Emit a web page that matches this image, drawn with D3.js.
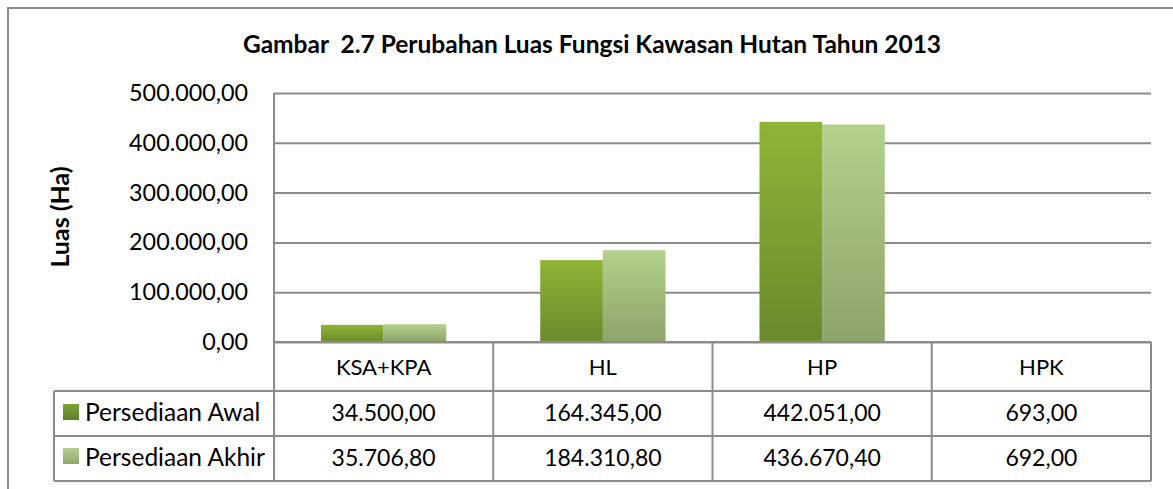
<!DOCTYPE html>
<html>
<head>
<meta charset="utf-8">
<script src="https://cdn.jsdelivr.net/npm/d3@7"></script>
<style>
  html, body { margin: 0; padding: 0; background: #fff; }
  svg { display: block; }
  text { font-family: Lato, "Liberation Sans", sans-serif; fill: #000; }
</style>
</head>
<body>
<svg id="chart" width="1173" height="489"></svg>
<script>
// ---- data ----
const categories = ["KSA+KPA", "HL", "HP", "HPK"];
const seriesNames = ["Persediaan Awal", "Persediaan Akhir"];
const persediaanAwal = [34500.00, 164345.00, 442051.00, 693.00];
const persediaanAkhir = [35706.80, 184310.80, 436670.40, 692.00];
const yTicks = [0, 100000, 200000, 300000, 400000, 500000];
const titleText = "Gambar  2.7 Perubahan Luas Fungsi Kawasan Hutan Tahun 2013";
const yTitle = "Luas (Ha)";

const seriesValues = [persediaanAwal, persediaanAkhir];

// ---- layout ----
const svg = d3.select("#chart");
const plotLeft = 274, plotRight = 1151, plotTop = 93, plotBottom = 342;
const rowH = [342, 391, 436, 481];   // header top, row1 top, row2 top, bottom
const legendLeft = 54;
const gridColor = "#8c8c8c";

const locale = d3.formatLocale({ decimal: ",", thousands: ".", grouping: [3], currency: ["", ""] });
const fmt = locale.format(",.2f");

const x = d3.scaleBand().domain(categories).range([plotLeft, plotRight]).paddingInner(0).paddingOuter(0);
const xs = d3.scaleBand().domain(seriesNames).range([0, x.bandwidth()]).paddingInner(0).paddingOuter(0.75);
const y = d3.scaleLinear().domain([0, 500000]).range([plotBottom, plotTop]);

// gradients
const defs = svg.append("defs");
const grads = [
  { id: "g0", top: "#8fb536", bottom: "#6a8a2e" },
  { id: "g1", top: "#b4d18c", bottom: "#8da46a" },
  { id: "s0", top: "#7ea236", bottom: "#5f7f2a" },
  { id: "s1", top: "#b6cf93", bottom: "#8fa56c" }
];
grads.forEach(g => {
  const lg = defs.append("linearGradient").attr("id", g.id).attr("x1", 0).attr("y1", 0).attr("x2", 0).attr("y2", 1);
  lg.append("stop").attr("offset", "0%").attr("stop-color", g.top);
  lg.append("stop").attr("offset", "100%").attr("stop-color", g.bottom);
});

// outer border
svg.append("path").attr("d", "M8,489 L8,8 L1173,8")
  .attr("fill", "none").attr("stroke", gridColor).attr("stroke-width", 2);

// title
svg.append("text").attr("x", 592).attr("y", 53).attr("text-anchor", "middle")
  .attr("font-size", 24.5).attr("font-weight", "bold").style("white-space", "pre").text(titleText);

// y axis title
svg.append("text").attr("transform", "translate(69,217) rotate(-90)").attr("text-anchor", "middle")
  .attr("font-size", 25).attr("font-weight", "bold").text(yTitle);

// gridlines via axis
const yAxis = d3.axisLeft(y).tickValues(yTicks).tickSize(-(plotRight - plotLeft)).tickPadding(26).tickFormat(d => fmt(d));
const ga = svg.append("g").attr("transform", `translate(${plotLeft},0)`).call(yAxis);
ga.select(".domain").remove();
ga.selectAll(".tick line").attr("stroke", gridColor).attr("stroke-width", 2);
ga.selectAll(".tick text").attr("font-size", 23.3).attr("font-family", "Lato, 'Liberation Sans', sans-serif").attr("fill", "#000");

// bars
const groups = svg.append("g").selectAll("g").data(seriesNames).join("g").attr("fill", (d, i) => `url(#g${i})`);
groups.selectAll("rect").data((s, si) => categories.map((c, ci) => ({ c, s, v: seriesValues[si][ci] })))
  .join("rect")
  .attr("x", d => x(d.c) + xs(d.s))
  .attr("width", xs.bandwidth())
  .attr("y", d => y(d.v))
  .attr("height", d => plotBottom - y(d.v));

// table lines
const tl = svg.append("g").attr("stroke", gridColor).attr("stroke-width", 2).attr("fill", "none");
tl.append("line").attr("x1", plotLeft).attr("x2", plotLeft).attr("y1", plotTop).attr("y2", rowH[3]);
tl.append("line").attr("x1", plotLeft).attr("x2", plotRight).attr("y1", rowH[0]).attr("y2", rowH[0]);
[1, 2, 3].forEach(k => tl.append("line").attr("x1", legendLeft).attr("x2", plotRight).attr("y1", rowH[k]).attr("y2", rowH[k]));
categories.forEach(c => {
  const xr = x(c) + x.bandwidth();
  tl.append("line").attr("x1", xr).attr("x2", xr).attr("y1", rowH[0]).attr("y2", rowH[3]);
});
tl.append("line").attr("x1", legendLeft).attr("x2", legendLeft).attr("y1", rowH[1]).attr("y2", rowH[3]);

// header labels
svg.append("g").selectAll("text").data(categories).join("text")
  .attr("x", d => x(d) + x.bandwidth() / 2).attr("y", 375).attr("text-anchor", "middle")
  .attr("font-size", 22).text(d => d);

// value rows + legend
seriesNames.forEach((s, si) => {
  const base = si === 0 ? 420.5 : 465.5;
  svg.append("g").selectAll("text").data(categories).join("text")
    .attr("x", d => x(d) + x.bandwidth() / 2).attr("y", base).attr("text-anchor", "middle")
    .attr("font-size", 23).text((d, ci) => fmt(seriesValues[si][ci]));
  svg.append("rect").attr("x", 63).attr("y", si === 0 ? 404 : 448).attr("width", 16).attr("height", 16)
    .attr("fill", `url(#s${si})`);
  svg.append("text").attr("x", 85).attr("y", base).attr("font-size", 24.5).text(s);
});
</script>
</body>
</html>
